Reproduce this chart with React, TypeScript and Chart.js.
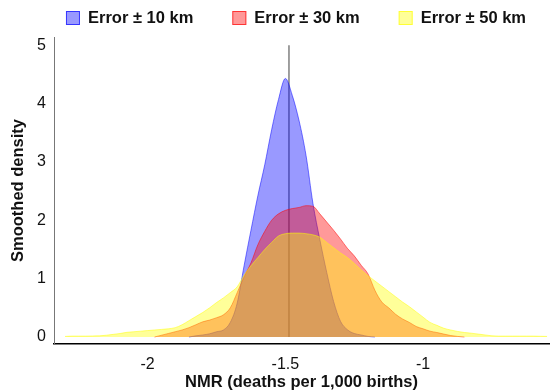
import { useEffect, useRef } from "react";
import { Chart, registerables } from "chart.js";
Chart.register(...registerables);

// Shared x grid (NMR, deaths per 1,000 births)
const xs = [
  -2.3, -2.275, -2.25, -2.225, -2.2, -2.175, -2.15, -2.125, -2.1, -2.075,
  -2.05, -2.025, -2.0, -1.975, -1.95, -1.925, -1.9, -1.875, -1.85, -1.825,
  -1.8, -1.775, -1.75, -1.725, -1.7, -1.675, -1.65, -1.625, -1.6, -1.575,
  -1.55, -1.525, -1.5, -1.475, -1.45, -1.425, -1.4, -1.375, -1.35, -1.325,
  -1.3, -1.275, -1.25, -1.225, -1.2, -1.175, -1.15, -1.125, -1.1, -1.075,
  -1.05, -1.025, -1.0, -0.975, -0.95, -0.925, -0.9, -0.875, -0.85, -0.825,
  -0.8, -0.775, -0.75, -0.725, -0.7, -0.675, -0.65, -0.625, -0.6, -0.575,
  -0.55,
];

// Smoothed density, error ± 10 km
const err10 = [
  null, null, null, null, null, null, null, null, null, null,
  null, null, null, null, null, null, null, null, 0, 0.02,
  0.035, 0.055, 0.09, 0.12, 0.25, 0.58, 1.22, 1.83, 2.42, 2.95,
  3.55, 4.07, 4.43, 4.14, 3.7, 3.11, 2.29, 1.67, 1.11, 0.61,
  0.27, 0.125, 0.06, 0.035, 0.01, 0, null, null, null, null,
  null, null, null, null, null, null, null, null, null, null,
  null, null, null, null, null, null, null, null, null, null,
  null,
];

// Smoothed density, error ± 30 km
const err30 = [
  null, null, null, null, null, null, null, null, null, null,
  null, null, null, 0, 0.03, 0.06, 0.09, 0.12, 0.16, 0.21,
  0.26, 0.29, 0.33, 0.38, 0.5, 0.76, 1.03, 1.27, 1.58, 1.81,
  2.0, 2.11, 2.17, 2.2, 2.22, 2.25, 2.24, 2.11, 1.97, 1.83,
  1.68, 1.52, 1.39, 1.23, 1.08, 0.8, 0.6, 0.5, 0.39, 0.31,
  0.25, 0.18, 0.14, 0.1, 0.077, 0.05, 0.025, 0.01, 0, null,
  null, null, null, null, null, null, null, null, null, null,
  null,
];

// Smoothed density, error ± 50 km
const err50 = [
  0.01, 0.015, 0.015, 0.015, 0.017, 0.02, 0.03, 0.045, 0.06, 0.08,
  0.09, 0.1, 0.11, 0.12, 0.13, 0.14, 0.16, 0.21, 0.28, 0.35,
  0.42, 0.5, 0.59, 0.67, 0.76, 0.86, 1.06, 1.22, 1.36, 1.5,
  1.62, 1.73, 1.77, 1.78, 1.78, 1.77, 1.75, 1.71, 1.62, 1.53,
  1.44, 1.36, 1.26, 1.15, 1.05, 0.96, 0.87, 0.78, 0.69, 0.6,
  0.52, 0.43, 0.34, 0.25, 0.2, 0.15, 0.12, 0.095, 0.077, 0.065,
  0.05, 0.035, 0.02, 0.015, 0.015, 0.015, 0.015, 0.015, 0.015, 0.012,
  0.01,
];

const seriesLabels = ["Error ± 10 km", "Error ± 30 km", "Error ± 50 km"];
const xTicks = [-2, -1.5, -1];
const yTicks = [0, 1, 2, 3, 4, 5];
const refX = -1.487;
const refTop = 5;

const FONT = "'Liberation Sans', Arial, Helvetica, sans-serif";
const fills = ["rgba(0,0,255,0.4)", "rgba(255,0,0,0.4)", "rgba(255,255,0,0.4)"];
const edges = ["rgba(0,0,255,0.5)", "rgba(255,0,0,0.5)", "rgba(255,255,0,0.5)"];
const legendEdges = ["rgba(0,0,255,0.65)", "rgba(255,0,0,0.65)", "rgba(255,255,0,0.65)"];

const refLinePlugin = {
  id: "refLine",
  beforeDatasetsDraw(chart: any) {
    const { ctx, scales } = chart;
    const px = scales.x.getPixelForValue(refX);
    ctx.save();
    ctx.strokeStyle = "#808080";
    ctx.lineWidth = 1.5;
    ctx.beginPath();
    ctx.moveTo(px, scales.y.getPixelForValue(refTop));
    ctx.lineTo(px, scales.y.getPixelForValue(0));
    ctx.stroke();
    ctx.restore();
  },
};

const legendPlugin = {
  id: "customLegend",
  afterDraw(chart: any) {
    const ctx = chart.ctx;
    ctx.save();
    ctx.font = `bold 16.5px ${FONT}`;
    const box = 14;
    const gap = 8;
    const spacing = 39;
    const widths = seriesLabels.map((t) => ctx.measureText(t).width);
    const total =
      widths.reduce((a, w) => a + box + gap + w, 0) + spacing * (seriesLabels.length - 1);
    let x = 296 - total / 2;
    const top = 11;
    seriesLabels.forEach((label, i) => {
      ctx.fillStyle = "#fff";
      ctx.fillRect(x, top, box, box);
      ctx.fillStyle = fills[i];
      ctx.fillRect(x, top, box, box);
      ctx.strokeStyle = legendEdges[i];
      ctx.lineWidth = 1;
      ctx.strokeRect(x + 0.5, top + 0.5, box - 1, box - 1);
      ctx.fillStyle = "#111";
      ctx.textBaseline = "middle";
      ctx.textAlign = "left";
      ctx.fillText(label, x + box + gap, top + box / 2 + 0.5);
      x += box + gap + widths[i] + spacing;
    });
    ctx.restore();
  },
};

export default function App() {
  const ref = useRef<HTMLCanvasElement | null>(null);

  useEffect(() => {
    if (!ref.current) return;
    Chart.defaults.font.family = FONT;
    const series = [err10, err30, err50];
    const chart = new Chart(ref.current, {
      type: "line",
      data: {
        datasets: series.map((arr, i) => ({
          label: seriesLabels[i],
          data: xs.map((x, j) => ({ x, y: arr[j] })),
          backgroundColor: fills[i],
          borderColor: edges[i],
          borderWidth: 1,
          fill: "origin",
          pointRadius: 0,
          cubicInterpolationMode: "monotone" as const,
          order: 3 - i,
        })),
      },
      options: {
        responsive: false,
        animation: false,
        layout: { padding: { top: 37, right: 1, left: 0, bottom: 0 } },
        plugins: {
          legend: { display: false },
          tooltip: { enabled: false },
        },
        scales: {
          x: {
            type: "linear",
            min: -2.34,
            max: -0.543,
            grid: { display: false, drawTicks: false },
            border: { display: true, color: "#000", width: 1.5 },
            afterBuildTicks: (s: any) => {
              s.ticks = xTicks.map((v) => ({ value: v }));
            },
            afterFit: (s: any) => {
              s.height = 48;
            },
            ticks: {
              padding: 11,
              color: "#111",
              font: { size: 16 },
              maxRotation: 0,
              callback: (v: any) => String(v),
            },
            title: {
              display: true,
              text: "NMR (deaths per 1,000 births)",
              color: "#111",
              font: { size: 16.5, weight: "bold" },
              padding: { top: 0, bottom: 0 },
            },
          },
          y: {
            type: "linear",
            min: -0.12,
            max: 5.14,
            grid: { display: false, drawTicks: false },
            border: { display: true, color: "#777", width: 1 },
            afterBuildTicks: (s: any) => {
              s.ticks = yTicks.map((v) => ({ value: v }));
            },
            afterFit: (s: any) => {
              s.width = 54;
            },
            ticks: {
              padding: 8,
              color: "#111",
              font: { size: 16 },
              callback: (v: any) => String(v),
            },
            title: {
              display: true,
              text: "Smoothed density",
              color: "#111",
              font: { size: 16.5, weight: "bold" },
              padding: { top: 9, bottom: 0 },
            },
          },
        },
      },
      plugins: [refLinePlugin, legendPlugin],
    });
    return () => chart.destroy();
  }, []);

  return (
    <div style={{ position: "absolute", left: 0, top: 0, width: 550, height: 392, background: "#fff" }}>
      <canvas ref={ref} width={550} height={392} />
    </div>
  );
}
